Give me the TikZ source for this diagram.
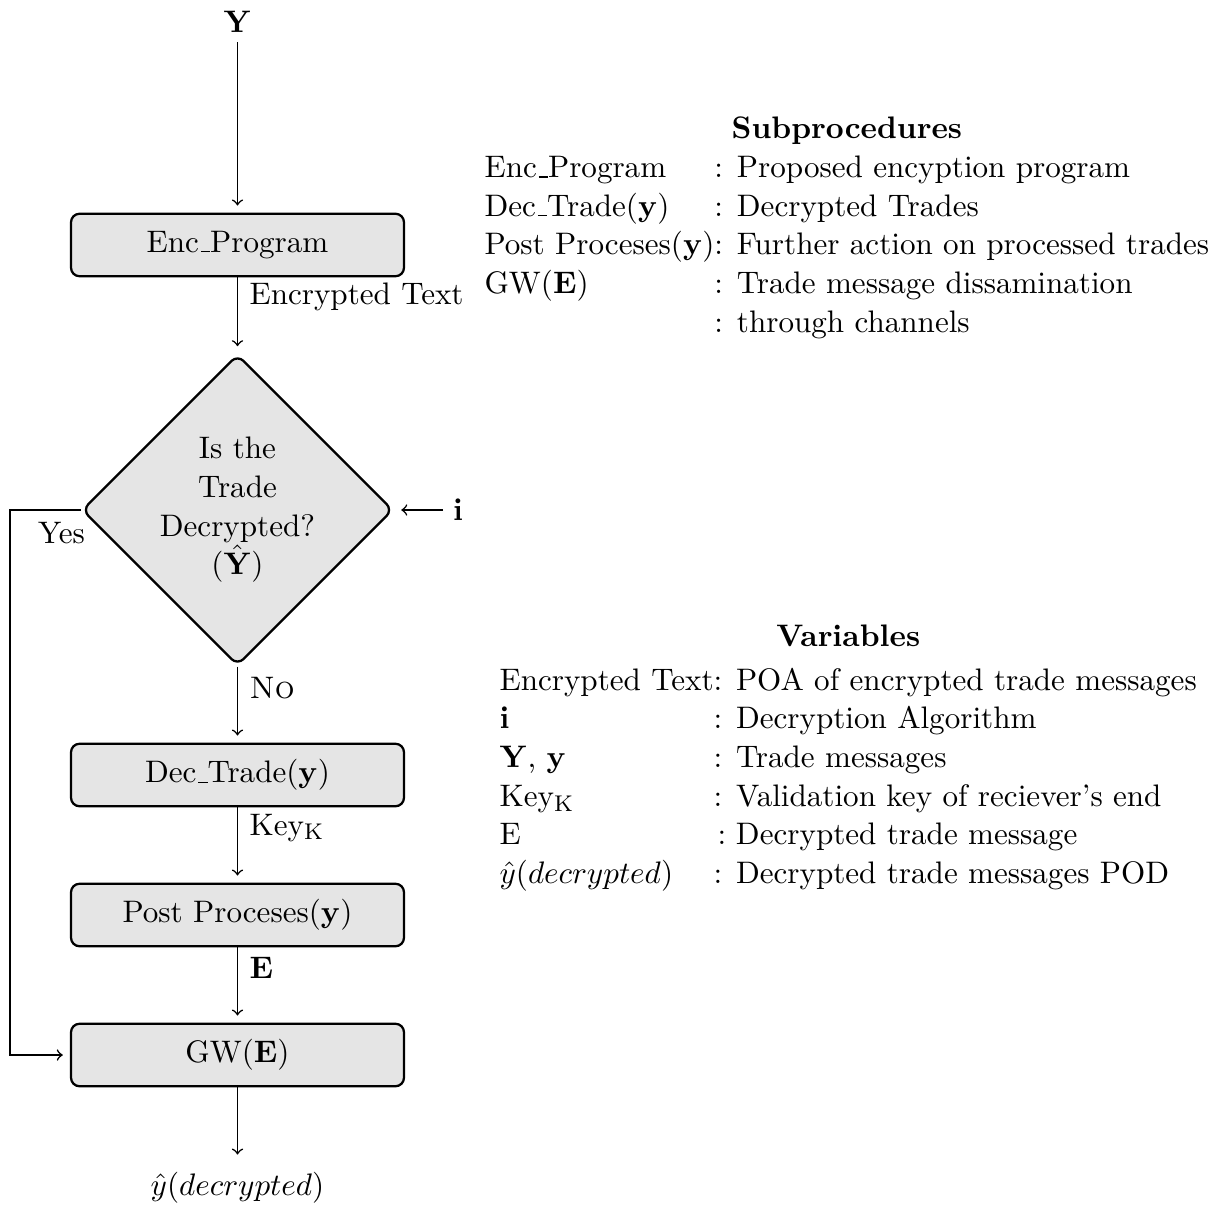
\documentclass[tikz,border=0pt]{standalone}
\usetikzlibrary{shapes.geometric}
% underscore drawn as a short rule on the baseline
\newcommand\usc{\leavevmode\kern.06em\vbox{\hrule width.3em}}
\begin{document}
\begin{tikzpicture}[x=0.352pt, y=-0.352pt,
  font=\fontsize{10.95}{13.6}\selectfont,
  proc/.style={draw, line width=0.8pt, rounded corners=3pt, fill=gray!20,
    minimum width=117.2pt, minimum height=22pt},
  decision/.style={diamond, aspect=1, draw, line width=0.8pt, rounded corners=3pt,
    fill=gray!20, minimum width=109.5pt, minimum height=109.5pt,
    inner sep=0pt, align=center},
  flow/.style={->, line width=0.55pt, shorten >=2.5pt},
  lbl/.style={inner sep=0pt}]
\useasboundingbox (0,0) rectangle (1224,1207);

% flowchart
\node (Y) at (237.5,21.5) {$\mathbf{Y}$};
\node[proc] (enc) at (237.5,245) {Enc\usc Program};
\node[decision] (dia) at (237.5,510) {Is the\\Trade\\Decrypted?\\($\hat{\mathbf{Y}}$)};
\node (i) at (458,510) {$\mathbf{i}$};
\node[proc] (dtr) at (237.5,775) {Dec\usc Trade($\mathbf{y}$)};
\node[proc] (post) at (237.5,915) {Post Proceses($\mathbf{y}$)};
\node[proc] (gw) at (237.5,1055) {GW($\mathbf{E}$)};
\node[anchor=base] (out) at (237.5,1195) {$\hat{y}(decrypted)$};
\coordinate (bend) at (10,510);

\draw[flow] (Y) -- (enc);
\draw[flow] (enc) -- (dia);
\draw[flow] (i.west) -- (dia.east);
\draw[flow] (dia) -- (dtr);
\draw[flow] (dtr) -- (post);
\draw[flow] (post) -- (gw);
\draw[flow] (gw) -- (out);
\draw[flow] (dia.west) -- (bend) |- (gw.west);

% connector labels
\node[lbl, anchor=base west] (lenc) at (249,305) {Encrypted Text};
\node[lbl, anchor=base east] (lyes) at (85.5,543) {Yes};
\node[lbl, anchor=base west] (lno) at (249,698) {\textsc{No}};
\node[lbl, anchor=base west] (lkey) at (249,835) {Key$_\mathrm{K}$};
\node[lbl, anchor=base west] (le) at (249,978) {$\mathbf{E}$};

% legends
\node[lbl, anchor=base west] (subproc) at (484,139) {%
\begin{tabular}[t]{@{}l@{}l@{}}
\multicolumn{2}{@{}c@{}}{\textbf{Subprocedures}}\\
Enc\usc Program & : Proposed encyption program\\
Dec\usc Trade($\mathbf{y}$) & : Decrypted Trades\\
Post Proceses($\mathbf{y}$) & : Further action on processed trades\\
GW($\mathbf{E}$) & : Trade message dissamination\\
 & : through channels
\end{tabular}};

\node[lbl, anchor=base west] (vars) at (499,646) {%
\begin{tabular}[t]{@{}l@{}l@{}}
\multicolumn{2}{@{}c@{}}{\textbf{Variables}}\\[2pt]
Encrypted Text & : POA of encrypted trade messages\\
$\mathbf{i}$ & : Decryption Algorithm\\
$\mathbf{Y}$, $\mathbf{y}$ & : Trade messages\\
Key$_\mathrm{K}$ & : Validation key of reciever's end\\
E & \hspace{1.4pt}:\hspace{3.45pt}Decrypted trade message\\
$\hat{y}(decrypted)$ & : Decrypted trade messages POD
\end{tabular}};
\end{tikzpicture}
\end{document}
